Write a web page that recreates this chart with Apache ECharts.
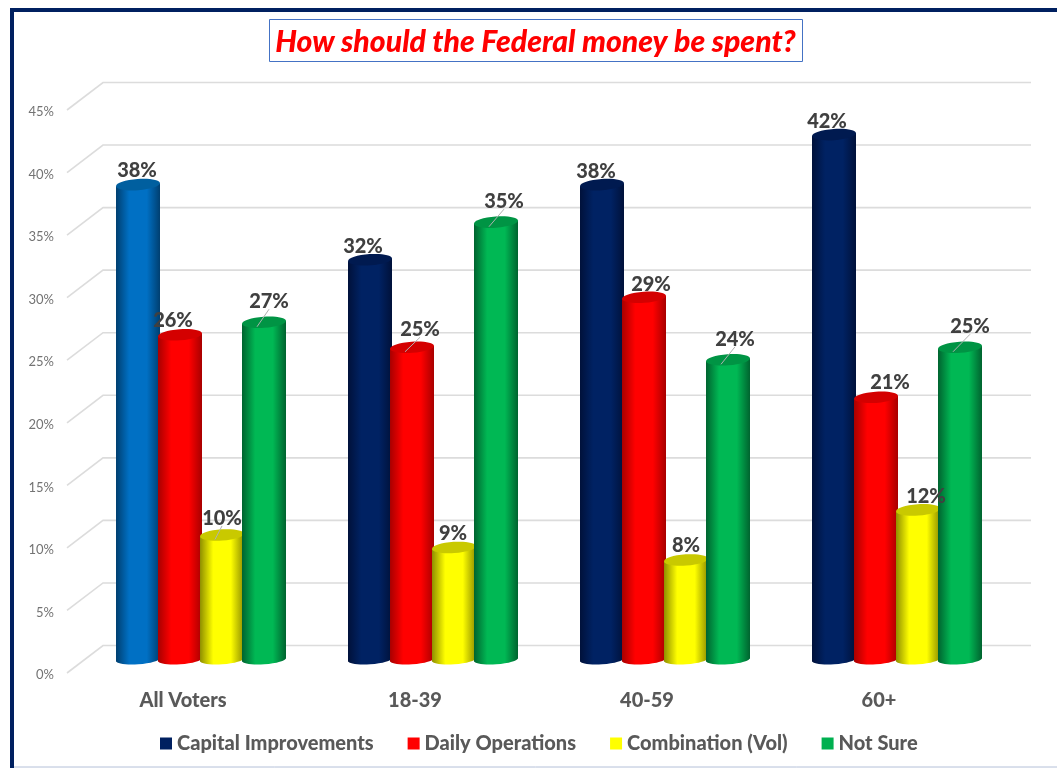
<!DOCTYPE html>
<html>
<head>
<meta charset="utf-8">
<style>html,body{margin:0;padding:0;background:#fff}#c{width:1057px;height:768px}</style>
<script src="https://cdn.jsdelivr.net/npm/echarts@6/dist/echarts.min.js"></script>
</head>
<body>
<div id="c"></div>
<script>
var titleText = 'How should the Federal money be spent?';
var categories = ['All Voters', '18-39', '40-59', '60+'];
var seriesNames = ['Capital Improvements', 'Daily Operations', 'Combination (Vol)', 'Not Sure'];
var capital = [38, 32, 38, 42];
var daily = [26, 25, 29, 21];
var combination = [10, 9, 8, 12];
var notSure = [27, 35, 24, 25];
var gridTicks = [0, 5, 10, 15, 20, 25, 30, 35, 40, 45];

var values = [capital, daily, combination, notSure];
var FONT = 'Lato, "Open Sans", sans-serif';
var depthX = 36, depthY = 27.5, pitch = 42, rx = 22, ry = 5.6, tilt = 0.07, rise = 1.5, sink = 0.8;
var palettes = [
  {edge: '#00113a', mid: '#002263', top: '#001a50', legend: '#002060'},
  {edge: '#a80000', mid: '#ff0000', top: '#d40000', legend: '#ff0000'},
  {edge: '#8f8f00', mid: '#ffff00', top: '#c9c900', legend: '#ffff00'},
  {edge: '#00632f', mid: '#00b854', top: '#009444', legend: '#00b050'}
];
var allVotersCapital = {edge: '#003f70', mid: '#0070c4', top: '#005f9f'};
// label placement relative to the top of each cylinder: [dx, dy, leader]
var labelPlace = [
  [[-1,-15,0],[-7,-15,0],[0,-17,1],[5,-21,1]],
  [[-7,-14,0],[8,-18,1],[-1,-15,0],[8,-21,1]],
  [[-6,-14,0],[7,-13,0],[0,-15,0],[7,-21,1]],
  [[-7,-14,0],[14,-15,0],[8,-14,0],[10,-21,1]]
];

function gridItem(params, api) {
  var p = api.coord([0, api.value(1)]);
  var cs = params.coordSys;
  var x0 = cs.x, y = p[1];
  return {
    type: 'polyline', silent: true,
    shape: {points: [[x0, y], [x0 + depthX, y - depthY], [x0 + cs.width + depthX, y - depthY]]},
    style: {stroke: '#dcdcdc', lineWidth: 1.6, fill: null}
  };
}

function cylinder(s) {
  return function (params, api) {
    var cat = api.value(0), val = api.value(1);
    var topP = api.coord([cat, val]), baseP = api.coord([cat, 0]);
    var cx = topP[0] + depthX / 2 + (s - 1.5) * pitch;
    var yT = topP[1] - depthY / 2 + sink, yB = baseP[1] - depthY / 2 + sink;
    var pal = (s === 0 && cat === 0) ? allVotersCapital : palettes[s];
    var grad = {
      type: 'linear', x: 0, y: 0, x2: 1, y2: 0,
      colorStops: [
        {offset: 0, color: pal.edge}, {offset: 0.3, color: pal.mid},
        {offset: 0.7, color: pal.mid}, {offset: 1, color: pal.edge}
      ]
    };
    var place = labelPlace[cat][s];
    var kids = [
      {type: 'ellipse', shape: {cx: cx, cy: yB - 0.5, rx: rx, ry: 4.8}, rotation: tilt, originX: cx, originY: yB - 0.5,
       style: {fill: grad}, z2: 5 + s},
      {type: 'polygon', shape: {points: [[cx - rx, yT + rise], [cx + rx, yT - rise], [cx + rx, yB - rise], [cx - rx, yB + rise]]},
       style: {fill: grad}, z2: 5 + s},
      {type: 'ellipse', shape: {cx: cx, cy: yT, rx: rx, ry: ry}, rotation: tilt, originX: cx, originY: yT,
       style: {fill: pal.top}, z2: 5 + s},
      {type: 'text', z2: 100,
       style: {text: val + '%', x: cx + place[0], y: yT + place[1] + 0.7, align: 'center', verticalAlign: 'middle',
                font: '900 20px ' + FONT, fill: '#404040'}}
    ];
    if (place[2]) {
      kids.push({type: 'line', z2: 90,
        shape: {x1: cx - 7, y1: yT + 4.5, x2: cx + place[0], y2: yT + place[1] + 8},
        style: {stroke: '#b0b0b0', lineWidth: 1}});
    }
    return {type: 'group', children: kids};
  };
}

var series = [{
  type: 'custom', silent: true, z: 1, clip: false,
  encode: {x: 0, y: 1},
  data: gridTicks.map(function (t) { return [0, t]; }),
  renderItem: gridItem
}];
seriesNames.forEach(function (name, s) {
  series.push({
    name: name, type: 'custom', z: 2, clip: false, silent: true,
    itemStyle: {color: palettes[s].legend},
    encode: {x: 0, y: 1},
    data: values[s].map(function (v, c) { return [c, v]; }),
    renderItem: cylinder(s)
  });
});

var chart = echarts.init(document.getElementById('c'), null, {renderer: 'canvas'});
chart.setOption({
  animation: false,
  backgroundColor: '#ffffff',
  title: {
    text: titleText, left: 535.5, top: 27, padding: 0, textAlign: 'center',
    textStyle: {color: '#ff0000', fontSize: 30.2, fontWeight: 900, fontStyle: 'italic', fontFamily: FONT}
  },
  graphic: [
    {type: 'rect', silent: true, z: 0, shape: {x: 12, y: 10, width: 1100, height: 800},
     style: {fill: 'none', stroke: '#002060', lineWidth: 4}},
    {type: 'line', silent: true, z: 0, shape: {x1: 14, y1: 767, x2: 1057, y2: 767},
     style: {stroke: '#b4c0d8', lineWidth: 1}},
    {type: 'rect', silent: true, z: 0, shape: {x: 269.5, y: 19.5, width: 533, height: 42},
     style: {fill: '#fff', stroke: '#4472c4', lineWidth: 1}}
  ],
  grid: {left: 67, top: 110, width: 928, height: 563, containLabel: false},
  legend: {
    left: 160, top: 733.5, padding: 0, icon: 'rect', itemWidth: 12, itemHeight: 12, itemGap: 34,
    data: seriesNames, selectedMode: false,
    textStyle: {color: '#595959', fontSize: 20, fontWeight: 900, fontFamily: FONT}
  },
  xAxis: {
    type: 'category', data: categories,
    axisLine: {show: false}, axisTick: {show: false}, splitLine: {show: false},
    axisLabel: {color: '#595959', fontSize: 20, fontWeight: 900, fontFamily: FONT, margin: 18}
  },
  yAxis: {
    type: 'value', min: 0, max: 45, interval: 5,
    axisLine: {show: false}, axisTick: {show: false}, splitLine: {show: false},
    axisLabel: {margin: 13,
                formatter: function (v) { return '{t|' + v + '%}'; },
                rich: {t: {color: '#737373', fontSize: 13, fontFamily: FONT, padding: [4, 0, 0, 0]}}}
  },
  series: series
});
</script>
</body>
</html>
